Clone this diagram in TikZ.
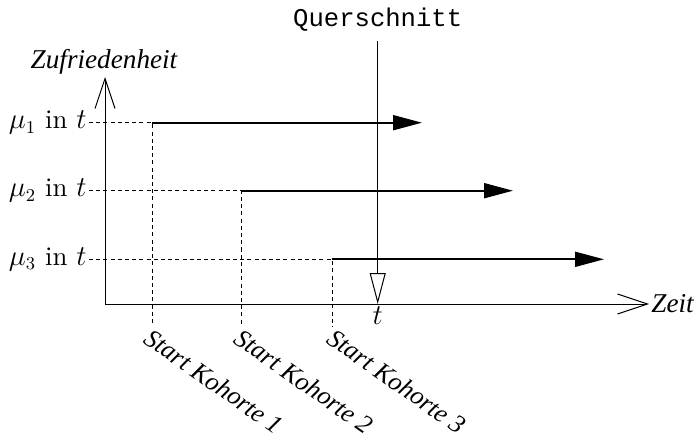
\documentclass[tikz,border=0pt]{standalone}
\usepackage{fontspec}
\setmainfont{Liberation Serif}
\setmonofont{Liberation Mono}
\newfontfamily\lmrfont{lmroman10-regular.otf}
\usetikzlibrary{arrows.meta}
\begin{document}
\begin{tikzpicture}[x=0.5pt,y=-0.5pt,
  font=\fontsize{13.6}{16}\selectfont,
  axis/.style={line width=0.5pt,-{Straight Barb[length=15pt,width=10pt,line width=0.5pt]}},
  cohort/.style={line width=0.9pt,-{Triangle[length=14.5pt,width=7.5pt]}},
  guide/.style={line width=0.5pt,dash pattern=on 2pt off 1.6pt},
  lbl/.style={inner sep=1pt},
  mulbl/.style={inner sep=1pt,anchor=east,font=\fontsize{13.4}{16}\lmrfont},
  startlbl/.style={inner sep=0pt,anchor=north west,rotate=-35,font=\fontsize{13}{16}\selectfont\itshape}]
\useasboundingbox (0,0) rectangle (695,438);
% axes
\coordinate (O) at (105,304);
\coordinate (Ytop) at (105,77);
\coordinate (Xend) at (649,304);
\draw[axis] (O) -- (Ytop);
\draw[axis] (O) -- (Xend);
\node[lbl,font=\fontsize{13.6}{16}\selectfont\itshape] (ylab) at (104,62) {Zufriedenheit};
\node[lbl,anchor=west,font=\fontsize{13.6}{16}\selectfont\itshape] (xlab) at (Xend) {Zeit};
% level labels
\node[mulbl] (m1) at (89,122.7) {$\mu_1$ in $t$};
\node[mulbl] (m2) at (89,190.7) {$\mu_2$ in $t$};
\node[mulbl] (m3) at (89,259.3) {$\mu_3$ in $t$};
% cohort starts
\coordinate (s1) at (152,122.7);
\coordinate (s2) at (241,190.7);
\coordinate (s3) at (332,259.3);
\coordinate (b1) at (152,326);
\coordinate (b2) at (241,326);
\coordinate (b3) at (332,326);
\coordinate (e1) at (422,122.7);
\coordinate (e2) at (513,190.7);
\coordinate (e3) at (604,259.3);
\draw[guide] (m1.east) -- (s1) -- (b1);
\draw[guide] (m2.east) -- (s2) -- (b2);
\draw[guide] (m3.east) -- (s3) -- (b3);
\draw[cohort] (s1) -- (e1);
\draw[cohort] (s2) -- (e2);
\draw[cohort] (s3) -- (e3);
\node[startlbl] (k1) at (153,327) {Start Kohorte 1};
\node[startlbl] (k2) at (243,327) {Start Kohorte 2};
\node[startlbl] (k3) at (336,327) {Start Kohorte 3};
% cross-section
\node[lbl,font=\fontsize{12.8}{15}\ttfamily] (q) at (377.7,20) {Querschnitt};
\coordinate (qtop) at (377.7,41);
\coordinate (qbot) at (377.7,304);
\draw[line width=0.5pt,-{Triangle[open,length=15.5pt,width=8pt,line width=0.5pt,fill=white]}] (qtop) -- (qbot);
\node[lbl,anchor=north,font=\fontsize{14}{16}\selectfont] (t) at (qbot) {$t$};
\end{tikzpicture}
\end{document}
